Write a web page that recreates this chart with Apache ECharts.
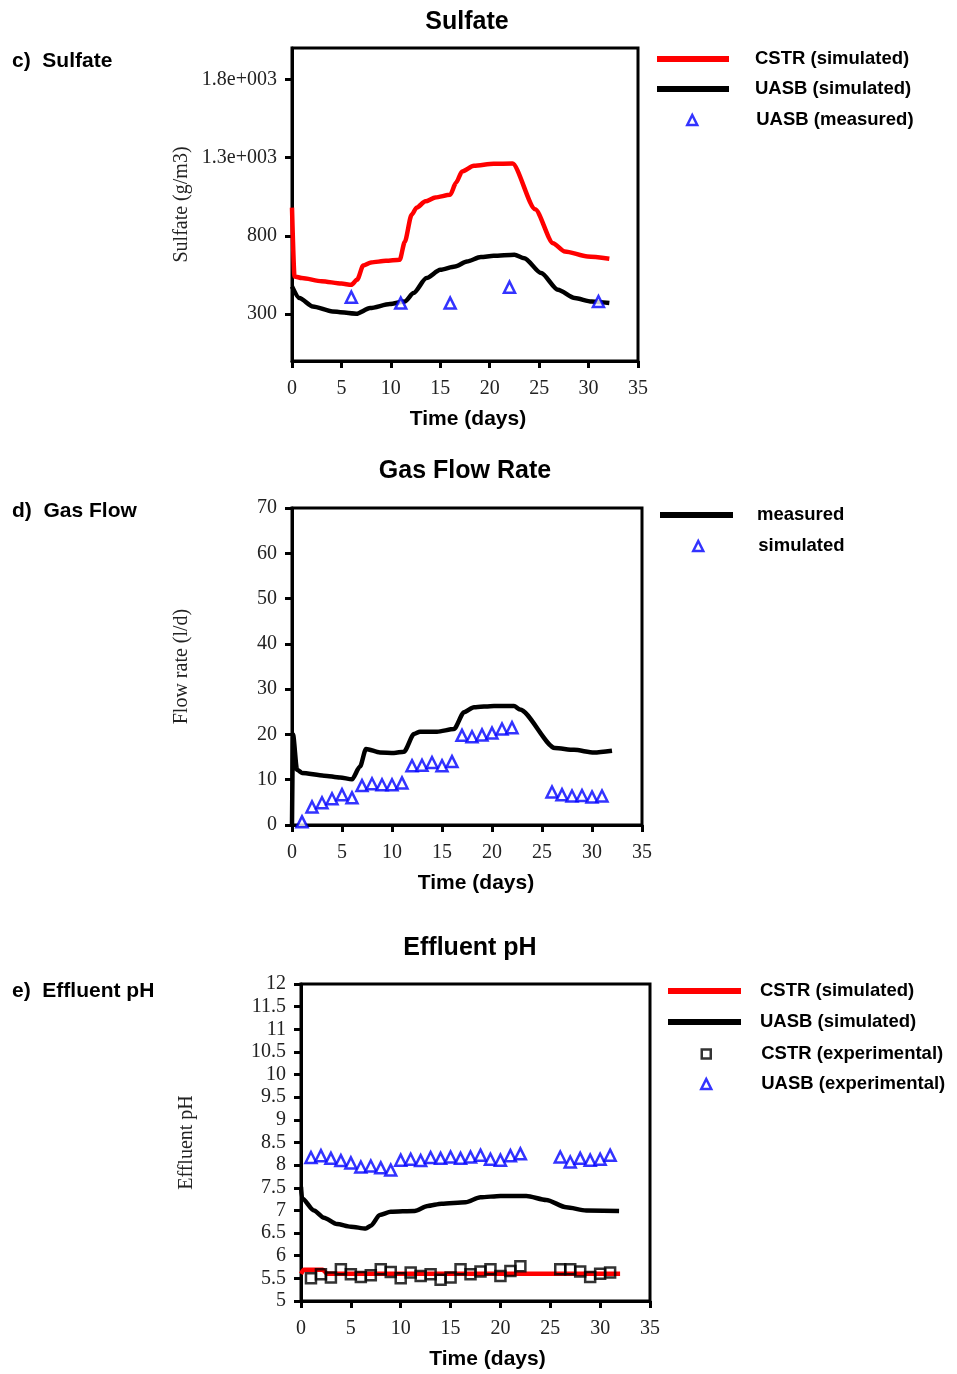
<!DOCTYPE html>
<html>
<head>
<meta charset="utf-8">
<script src="https://cdn.jsdelivr.net/npm/echarts@6/dist/echarts.min.js"></script>
<style>
  html, body { margin: 0; padding: 0; background: #fff; }
  #main { width: 957px; height: 1374px; }
</style>
</head>
<body>
<div id="main"></div>
<script>
// c) Sulfate  [day, g/m3]
var sulfateCstrSim = [[0,980],[0.25,540],[1,530],[3,510],[5,495],[6,487],[6.6,520],[7.2,610],[8,630],[9.5,640],[10.9,647],[11.4,760],[12.1,934],[12.6,980],[13.5,1020],[14.5,1045],[16,1062],[16.6,1140],[17.2,1211],[18.4,1247],[20.4,1260],[22.3,1262],[24.6,970],[26.4,753],[27.6,700],[29.9,668],[32.1,653]];
var sulfateUasbSim = [[0,476],[0.75,402],[2.1,348],[4.1,317],[6.5,302],[7.9,338],[9.9,364],[11.4,380],[12.3,434],[13.6,530],[15,583],[16.5,604],[17.7,636],[19.1,664],[20.4,672],[22.5,679],[23.5,657],[25.2,562],[26.9,455],[28.6,402],[30.3,380],[32.1,370]];
var sulfateUasbMeas = [[6,408],[11,370],[16,370],[22,472],[31,380]];
var sulfateTicks = [300, 800, 1300, 1800];

// d) Gas flow  [day, l/d]
var gasLine = [[0,0],[0.1,20],[0.5,12.2],[1,11.5],[3.2,10.9],[4.8,10.5],[6,10.1],[6.8,12.9],[7.4,16.8],[8.8,16.0],[10.2,15.9],[11.2,16.2],[12.2,20.1],[12.8,20.6],[14.5,20.6],[16.2,21.2],[17.2,24.9],[18.2,26.0],[20.2,26.3],[22.2,26.3],[22.8,25.5],[26.3,17.0],[28.2,16.6],[30.2,16.0],[32,16.4]];
var gasPoints = [[1,0.7],[2,4.0],[3,4.9],[4,5.8],[5,6.7],[6,6.0],[7,8.7],[8,9.1],[9,8.9],[10,8.9],[11,9.3],[12,13.1],[13,13.2],[14,13.8],[15,13.1],[16,14.0],[17,19.8],[18,19.5],[19,19.9],[20,20.3],[21,21.2],[22,21.5],[26,7.3],[27,6.7],[28,6.4],[29,6.5],[30,6.2],[31,6.4]];

// e) Effluent pH  [day, pH]
var phCstrSim = [[0,5.6],[0.3,5.69],[2.2,5.69],[2.6,5.6],[32,5.6]];
var phUasbSim = [[0,7.52],[0.1,7.27],[1.3,7.0],[2.3,6.84],[3.6,6.70],[5,6.64],[6.5,6.60],[7,6.66],[7.9,6.90],[9,6.97],[11.4,6.99],[12.7,7.1],[14.1,7.15],[16.5,7.18],[18,7.29],[20,7.32],[22.6,7.32],[24.6,7.23],[26.6,7.07],[28.6,7.0],[31.9,6.99]];
var phCstrExp = [[1,5.50],[2,5.59],[3,5.52],[4,5.70],[5,5.59],[6,5.53],[7,5.57],[8,5.70],[9,5.64],[10,5.50],[11,5.63],[12,5.55],[13,5.59],[14,5.47],[15,5.52],[16,5.70],[17,5.59],[18,5.65],[19,5.70],[20,5.55],[21,5.66],[22,5.77],[26,5.70],[27,5.70],[28,5.65],[29,5.53],[30,5.60],[31,5.63]];
var phUasbExp = [[1,8.17],[2,8.21],[3,8.15],[4,8.10],[5,8.05],[6,7.96],[7,7.98],[8,7.94],[9,7.89],[10,8.11],[11,8.13],[12,8.10],[13,8.17],[14,8.15],[15,8.18],[16,8.15],[17,8.18],[18,8.22],[19,8.13],[20,8.11],[21,8.21],[22,8.25],[26,8.18],[27,8.07],[28,8.15],[29,8.11],[30,8.13],[31,8.22]];

var SERIF = '"Liberation Serif", "Times New Roman", serif';
var SANS = '"Liberation Sans", Arial, sans-serif';

var RED = '#ff0000', BLACK = '#000', BLUE = '#0000ff';
var triStyle = { color: '#fff', borderColor: BLUE, borderWidth: 2.5 };
var rectStyle = { color: 'rgba(0,0,0,0)', borderColor: BLACK, borderWidth: 2.5 };

function xAxisFor(gridIndex, namePad) {
	return {
		gridIndex: gridIndex,
		type: 'value', min: 0, max: 35, interval: 5,
		name: 'Time (days)', nameLocation: 'middle', nameGap: 48,
		nameTextStyle: { fontFamily: SANS, fontWeight: 'bold', fontSize: 21, color: '#000', padding: [0, 0, 0, namePad] },
		axisLine: { onZero: false, lineStyle: { color: '#000', width: 3 } },
		axisTick: { length: 7, lineStyle: { width: 3, color: '#000' } },
		axisLabel: { fontFamily: SERIF, fontSize: 20, color: '#222', margin: 18 },
		splitLine: { show: false }
	};
}

function yAxisFor(gridIndex, name, gap, extra) {
	var ax = {
		gridIndex: gridIndex,
		type: 'value',
		name: name, nameLocation: 'middle', nameGap: gap,
		nameTextStyle: { fontFamily: SERIF, fontSize: 20, color: '#222' },
		axisLine: { onZero: false, lineStyle: { color: '#000', width: 3 } },
		axisTick: { length: 7, lineStyle: { width: 3, color: '#000' } },
		axisLabel: { fontFamily: SERIF, fontSize: 20, color: '#222', margin: 15 },
		splitLine: { show: false }
	};
	for (var k in extra) ax[k] = extra[k];
	return ax;
}

function lineSeries(name, data, color, xi) {
	return {
		name: name, type: 'line', xAxisIndex: xi, yAxisIndex: xi,
		data: data, symbol: 'none', smooth: 0.25, smoothMonotone: 'x',
		lineStyle: { color: color, width: 4.5 }, itemStyle: { color: color },
		z: 3
	};
}

function markSeries(name, data, xi, symbol, size, style) {
	return {
		name: name, type: 'scatter', xAxisIndex: xi, yAxisIndex: xi,
		data: data, symbol: symbol, symbolSize: size,
		itemStyle: style,
		z: 4
	};
}

// one legend component per entry, so line and marker icons get their own sizes
function legendItem(name, icon, style, iconLeft, iconW, iconH, rowY, textX) {
	return {
		left: iconLeft, top: rowY - 10, padding: 0,
		itemWidth: iconW, itemHeight: iconH,
		selectedMode: false,
		data: [{ name: name, icon: icon, itemStyle: style }],
		textStyle: { fontFamily: SANS, fontWeight: 'bold', fontSize: 18.5, color: '#000', lineHeight: 20, padding: [0, 0, 0, textX - iconLeft - iconW - 5] }
	};
}
function lineLegend(name, color, x0, x1, y, textX) {
	return legendItem(name, 'rect', { color: color, borderWidth: 0 }, x0, x1 - x0, 6, y, textX);
}
function markLegend(name, icon, style, cx, size, y, textX) {
	return legendItem(name, icon, style, cx - size / 2, size, size, y, textX);
}

var titleStyle = { fontFamily: SANS, fontWeight: 'bold', fontSize: 25, color: '#000' };
var panelStyle = { fontFamily: SANS, fontWeight: 'bold', fontSize: 21, color: '#000' };

var chart = echarts.init(document.getElementById('main'));
chart.setOption({
	backgroundColor: '#fff',
	animation: false,
	title: [
		{ text: 'Sulfate', left: 467, top: 10, padding: 0, textAlign: 'center', textStyle: titleStyle },
		{ text: 'Gas Flow Rate', left: 465, top: 459, padding: 0, textAlign: 'center', textStyle: titleStyle },
		{ text: 'Effluent pH', left: 470, top: 936, padding: 0, textAlign: 'center', textStyle: titleStyle },
		{ text: 'c)  Sulfate', left: 12, top: 51, padding: 0, textStyle: panelStyle },
		{ text: 'd)  Gas Flow', left: 12, top: 501, padding: 0, textStyle: panelStyle },
		{ text: 'e)  Effluent pH', left: 12, top: 981, padding: 0, textStyle: panelStyle }
	],
	legend: [
		lineLegend('CSTR (simulated)', RED, 657, 729, 59, 755),
		lineLegend('UASB (simulated)', BLACK, 657, 729, 89, 755),
		markLegend('UASB (measured)', 'triangle', triStyle, 691, 10, 120, 755),

		lineLegend('measured', BLACK, 660, 733, 515, 757),
		markLegend('simulated', 'triangle', triStyle, 697, 10, 546, 757),

		lineLegend('CSTR (simulated)', RED, 668, 741, 991, 760),
		lineLegend('UASB (simulated)', BLACK, 668, 741, 1022, 760),
		markLegend('CSTR (experimental)', 'rect', rectStyle, 705, 9, 1054, 760),
		markLegend('UASB (experimental)', 'triangle', triStyle, 705, 10, 1084, 760)
	],
	grid: [
		{ left: 292, top: 48, width: 346, height: 313, show: true, borderColor: '#000', borderWidth: 3 },
		{ left: 292, top: 508, width: 350, height: 317, show: true, borderColor: '#000', borderWidth: 3 },
		{ left: 301, top: 984, width: 349, height: 317, show: true, borderColor: '#000', borderWidth: 3 }
	],
	xAxis: [xAxisFor(0, 6), xAxisFor(1, 18), xAxisFor(2, 24)],
	yAxis: [
		yAxisFor(0, 'Sulfate (g/m3)', 100, {
			min: 0, max: 2000,
			axisTick: { length: 7, lineStyle: { width: 3, color: '#000' }, customValues: sulfateTicks },
			axisLabel: {
				fontFamily: SERIF, fontSize: 20, color: '#222', margin: 15,
				customValues: sulfateTicks,
				formatter: function (v) { return v >= 1000 ? (v / 1000).toFixed(1) + 'e+003' : String(v); }
			}
		}),
		yAxisFor(1, 'Flow rate (l/d)', 100, { min: 0, max: 70, interval: 10 }),
		yAxisFor(2, 'Effluent pH', 104, { min: 5, max: 12, interval: 0.5 })
	],
	series: [
		lineSeries('CSTR (simulated)', sulfateCstrSim, RED, 0),
		lineSeries('UASB (simulated)', sulfateUasbSim, BLACK, 0),
		markSeries('UASB (measured)', sulfateUasbMeas, 0, 'triangle', 11, triStyle),

		lineSeries('measured', gasLine, BLACK, 1),
		markSeries('simulated', gasPoints, 1, 'triangle', 11, triStyle),

		lineSeries('CSTR (simulated)', phCstrSim, RED, 2),
		lineSeries('UASB (simulated)', phUasbSim, BLACK, 2),
		markSeries('CSTR (experimental)', phCstrExp, 2, 'rect', 10, rectStyle),
		markSeries('UASB (experimental)', phUasbExp, 2, 'triangle', 11, triStyle)
	]
});
</script>
</body>
</html>
